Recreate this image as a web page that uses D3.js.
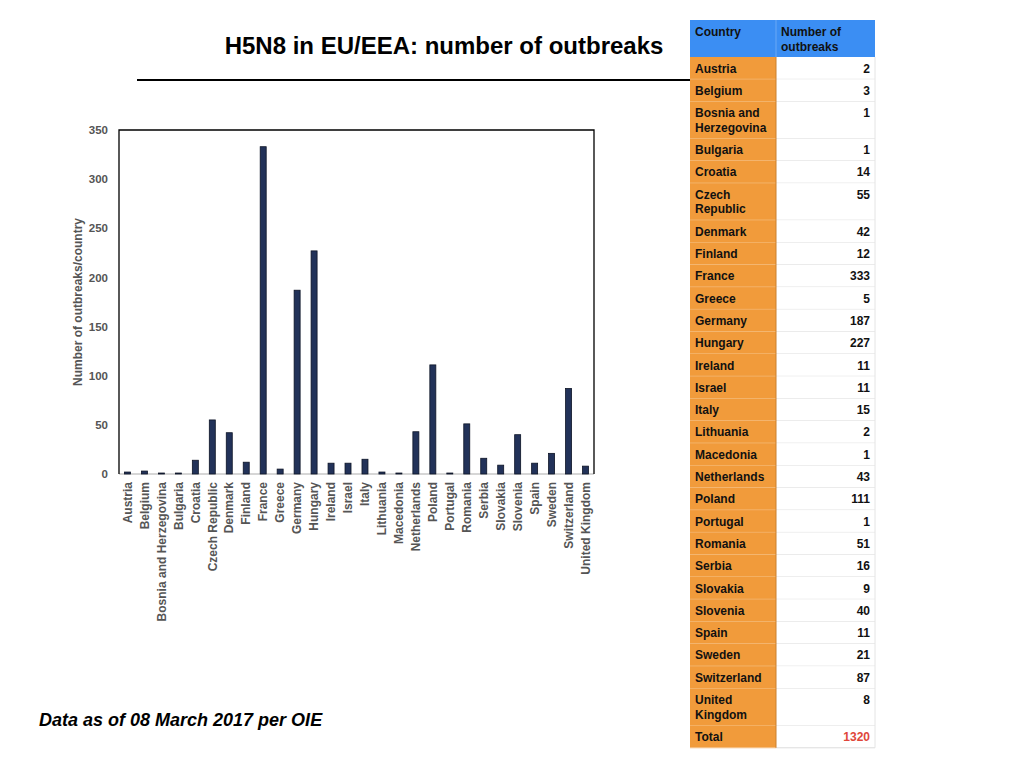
<!DOCTYPE html>
<html>
<head>
<meta charset="utf-8">
<title>H5N8 in EU/EEA</title>
<script src="https://cdn.jsdelivr.net/npm/d3@7"></script>
<style>
  body { margin: 0; background: #fff; }
  text { font-family: "Liberation Sans", Arial, Helvetica, sans-serif; }
</style>
</head>
<body>
<div id="container"></div>
<script>
var countries = ["Austria", "Belgium", "Bosnia and Herzegovina", "Bulgaria", "Croatia",
  "Czech Republic", "Denmark", "Finland", "France", "Greece", "Germany", "Hungary",
  "Ireland", "Israel", "Italy", "Lithuania", "Macedonia", "Netherlands", "Poland",
  "Portugal", "Romania", "Serbia", "Slovakia", "Slovenia", "Spain", "Sweden",
  "Switzerland", "United Kingdom"];
var outbreaks = [2, 3, 1, 1, 14, 55, 42, 12, 333, 5, 187, 227, 11, 11, 15, 2, 1, 43,
  111, 1, 51, 16, 9, 40, 11, 21, 87, 8];
// table labels (some wrap onto two lines)
var tableNames = [["Austria"], ["Belgium"], ["Bosnia and", "Herzegovina"], ["Bulgaria"],
  ["Croatia"], ["Czech", "Republic"], ["Denmark"], ["Finland"], ["France"], ["Greece"],
  ["Germany"], ["Hungary"], ["Ireland"], ["Israel"], ["Italy"], ["Lithuania"],
  ["Macedonia"], ["Netherlands"], ["Poland"], ["Portugal"], ["Romania"], ["Serbia"],
  ["Slovakia"], ["Slovenia"], ["Spain"], ["Sweden"], ["Switzerland"], ["United", "Kingdom"]];
var yTicks = [0, 50, 100, 150, 200, 250, 300, 350];

var WIDTH = 1024, HEIGHT = 768;
var svg = d3.select("#container").append("svg")
    .attr("width", WIDTH)
    .attr("height", HEIGHT);

// title + rule
svg.append("text")
    .attr("x", 444).attr("y", 54)
    .attr("text-anchor", "middle")
    .style("font-size", "24px").style("font-weight", "bold")
    .text("H5N8 in EU/EEA: number of outbreaks");
svg.append("line")
    .attr("x1", 137).attr("x2", 690).attr("y1", 80).attr("y2", 80)
    .attr("stroke", "#000").attr("stroke-width", 2);

// chart
var plotLeft = 119, plotRight = 594, plotTop = 130, plotBottom = 474;
var xscale = d3.scaleBand().domain(countries).range([plotLeft, plotRight]);
var yscale = d3.scaleLinear().domain([0, 350]).range([plotBottom, plotTop]);

var y_axis = d3.axisLeft(yscale).tickValues(yTicks).tickSize(0).tickPadding(11);
var gy = svg.append("g")
    .attr("transform", "translate(" + plotLeft + ",0)")
    .call(y_axis);
gy.select(".domain").remove();
gy.selectAll("text")
    .style("font-size", "11.5px").style("font-weight", "bold")
    .attr("fill", "#555");

var x_axis = d3.axisBottom(xscale).tickSize(0).tickPadding(0);
var gx = svg.append("g")
    .attr("transform", "translate(0," + plotBottom + ")")
    .call(x_axis);
gx.select(".domain").remove();
gx.selectAll("text")
    .attr("transform", "rotate(-90)")
    .attr("x", -8).attr("y", 0).attr("dy", "0.35em")
    .attr("text-anchor", "end")
    .style("font-size", "12px").style("font-weight", "bold")
    .attr("fill", "#555");

// frame: left/top/right black, bottom gray
svg.append("line").attr("x1", plotLeft).attr("x2", plotRight)
    .attr("y1", plotBottom).attr("y2", plotBottom)
    .attr("stroke", "#c8c8c8").attr("stroke-width", 1.5);
svg.append("path")
    .attr("d", "M" + plotLeft + "," + plotBottom + "V" + plotTop + "H" + plotRight + "V" + plotBottom)
    .attr("fill", "none").attr("stroke", "#000").attr("stroke-width", 1.3);

var barW = 6;
svg.append("g").selectAll("rect")
    .data(countries)
    .join("rect")
    .attr("x", function(d) { return xscale(d) + xscale.bandwidth() / 2 - barW / 2; })
    .attr("y", function(d, i) { return yscale(outbreaks[i]); })
    .attr("width", barW)
    .attr("height", function(d, i) { return plotBottom - yscale(outbreaks[i]); })
    .attr("fill", "#223259")
    .attr("stroke", "#0d1426").attr("stroke-width", 0.8);

svg.append("text")
    .attr("transform", "translate(82," + ((plotTop + plotBottom) / 2) + ") rotate(-90)")
    .attr("text-anchor", "middle")
    .style("font-size", "12px").style("font-weight", "bold")
    .attr("fill", "#555")
    .text("Number of outbreaks/country");

// footer
svg.append("text")
    .attr("x", 39).attr("y", 726)
    .style("font-size", "18px").style("font-weight", "bold").style("font-style", "italic")
    .text("Data as of 08 March 2017 per OIE");

// table
var tx0 = 690, tx1 = 776, tx2 = 875;
var headTop = 20, headBottom = 57;
var lineH = 14.7, singleH = 22.3;
var tbl = svg.append("g");
tbl.append("rect").attr("x", tx0).attr("y", headTop)
    .attr("width", tx2 - tx0).attr("height", headBottom - headTop)
    .attr("fill", "#3b8ef3");
tbl.append("line").attr("x1", tx1).attr("x2", tx1).attr("y1", headTop).attr("y2", headBottom)
    .attr("stroke", "#6aa8f5").attr("stroke-width", 1);
tbl.append("text").attr("x", tx0 + 5).attr("y", headTop + 16)
    .style("font-size", "12px").style("font-weight", "bold").attr("fill", "#111")
    .text("Country");
tbl.append("text").attr("x", tx1 + 5).attr("y", headTop + 16)
    .style("font-size", "12px").style("font-weight", "bold").attr("fill", "#111")
    .selectAll("tspan").data(["Number of", "outbreaks"]).join("tspan")
    .attr("x", tx1 + 5).attr("dy", function(d, i) { return i ? lineH : 0; })
    .text(function(d) { return d; });

var rows = tableNames.map(function(n, i) {
  return { name: n, value: outbreaks[i], total: false };
});
rows.push({ name: ["Total"], value: d3.sum(outbreaks), total: true });
var yy = headBottom;
rows.forEach(function(r) {
  r.y = yy;
  r.h = singleH + (r.name.length - 1) * lineH;
  yy += r.h;
});

var rg = tbl.selectAll("g.row").data(rows).join("g").attr("class", "row");
rg.append("rect").attr("x", tx0).attr("y", function(d) { return d.y; })
    .attr("width", tx1 - tx0).attr("height", function(d) { return d.h; })
    .attr("fill", "#f19b3b");
rg.append("rect").attr("x", tx1).attr("y", function(d) { return d.y; })
    .attr("width", tx2 - tx1).attr("height", function(d) { return d.h; })
    .attr("fill", "#fff");
rg.append("line").attr("x1", tx0).attr("x2", tx1)
    .attr("y1", function(d) { return d.y + d.h; }).attr("y2", function(d) { return d.y + d.h; })
    .attr("stroke", "#f6c48c").attr("stroke-width", 1);
rg.append("line").attr("x1", tx1).attr("x2", tx2)
    .attr("y1", function(d) { return d.y + d.h; }).attr("y2", function(d) { return d.y + d.h; })
    .attr("stroke", "#dcdcdc").attr("stroke-width", 1);
rg.append("text")
    .attr("y", function(d) { return d.y + 15.5; })
    .style("font-size", "12px").style("font-weight", "bold").attr("fill", "#111")
    .selectAll("tspan").data(function(d) { return d.name; }).join("tspan")
    .attr("x", tx0 + 5).attr("dy", function(d, i) { return i ? lineH : 0; })
    .text(function(d) { return d; });
rg.append("text")
    .attr("x", tx2 - 5)
    .attr("y", function(d) { return d.y + 15.5; })
    .attr("text-anchor", "end")
    .style("font-size", "12px").style("font-weight", "bold")
    .attr("fill", function(d) { return d.total ? "#e0463a" : "#111"; })
    .text(function(d) { return d.value; });
// column divider + right edge
tbl.append("line").attr("x1", tx1).attr("x2", tx1).attr("y1", headBottom).attr("y2", yy)
    .attr("stroke", "#c98030").attr("stroke-width", 1);
tbl.append("line").attr("x1", tx2).attr("x2", tx2).attr("y1", headBottom).attr("y2", yy)
    .attr("stroke", "#e4e4e4").attr("stroke-width", 1);
</script>
</body>
</html>
